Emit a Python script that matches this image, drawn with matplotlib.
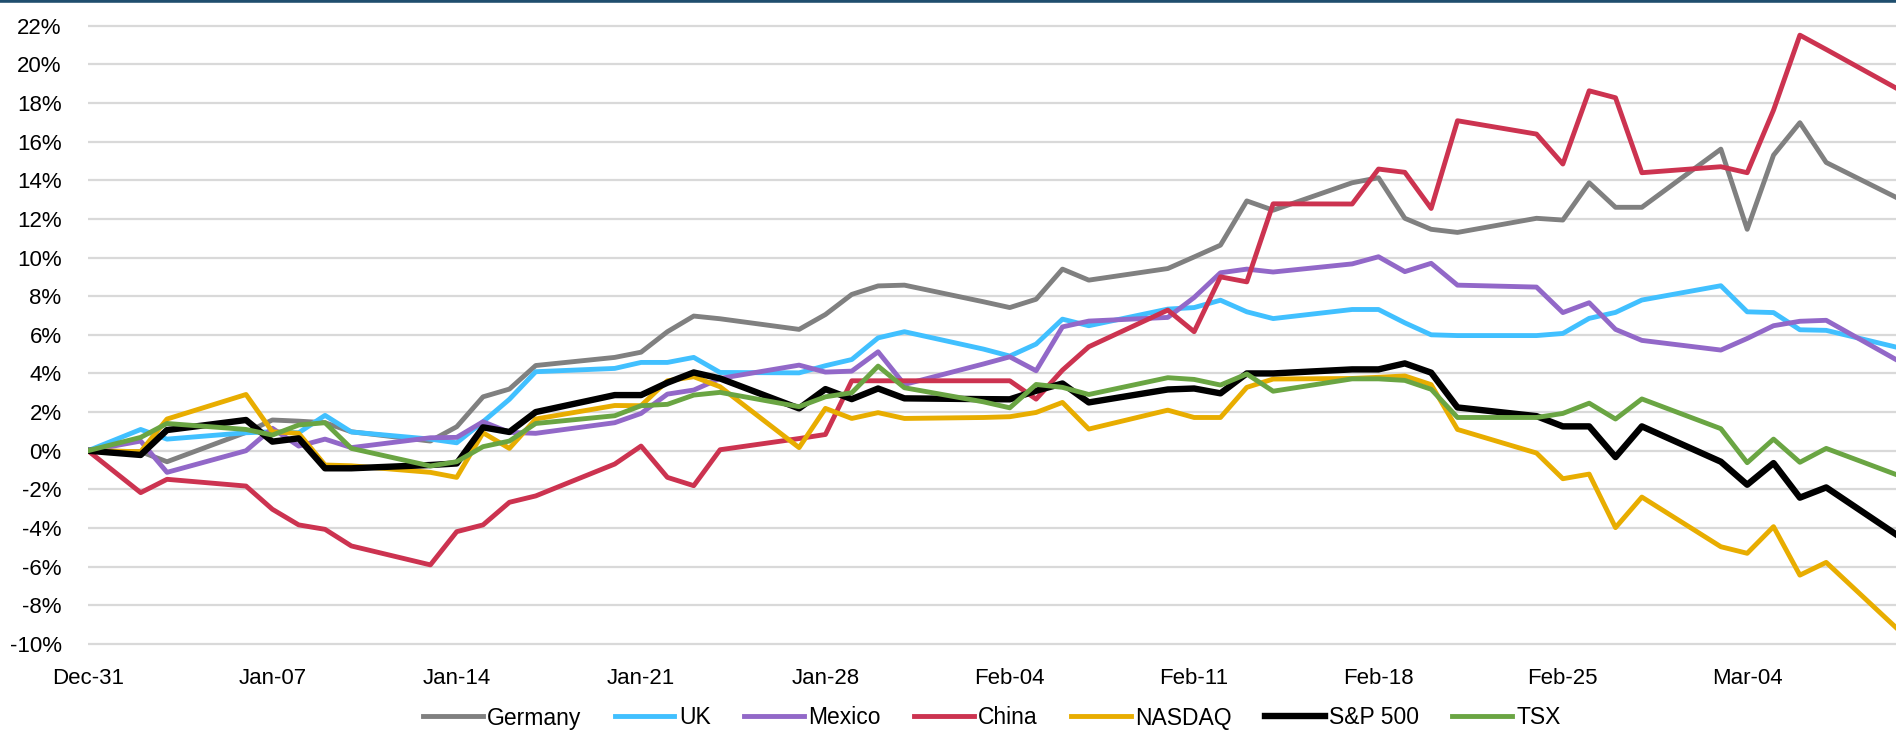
import numpy as np
import pandas as pd
import matplotlib
matplotlib.use("Agg")
import matplotlib.pyplot as plt
import matplotlib.dates as mdates

# trading days (weekdays, Jan 1 excluded)
dates = pd.to_datetime([
    "2024-12-31", "2025-01-02", "2025-01-03",
    "2025-01-06", "2025-01-07", "2025-01-08", "2025-01-09", "2025-01-10",
    "2025-01-13", "2025-01-14", "2025-01-15", "2025-01-16", "2025-01-17",
    "2025-01-20", "2025-01-21", "2025-01-22", "2025-01-23", "2025-01-24",
    "2025-01-27", "2025-01-28", "2025-01-29", "2025-01-30", "2025-01-31",
    "2025-02-03", "2025-02-04", "2025-02-05", "2025-02-06", "2025-02-07",
    "2025-02-10", "2025-02-11", "2025-02-12", "2025-02-13", "2025-02-14",
    "2025-02-17", "2025-02-18", "2025-02-19", "2025-02-20", "2025-02-21",
    "2025-02-24", "2025-02-25", "2025-02-26", "2025-02-27", "2025-02-28",
    "2025-03-03", "2025-03-04", "2025-03-05", "2025-03-06", "2025-03-07",
    "2025-03-10",
])

# cumulative return since Dec-31, in %
germany = [0, -0.05, -0.57, 0.95, 1.59, 1.53, 1.45, 0.98, 0.5, 1.24, 2.79, 3.19, 4.41,
           4.83, 5.10, 6.16, 6.97, 6.83, 6.28, 7.05, 8.09, 8.53, 8.57, 7.71, 7.41, 7.84,
           9.40, 8.83, 9.43, 10.03, 10.64, 12.93, 12.45, 13.87, 14.13, 12.03, 11.46, 11.30,
           12.03, 11.94, 13.87, 12.60, 12.60, 15.61, 11.46, 15.30, 16.98, 14.92, 12.88]
uk = [0, 1.10, 0.6, 0.93, 0.98, 0.93, 1.83, 0.97, 0.6, 0.41, 1.5, 2.66, 4.09,
      4.26, 4.57, 4.57, 4.83, 4.05, 4.03, 4.40, 4.72, 5.84, 6.16, 5.26, 4.90, 5.52,
      6.81, 6.47, 7.33, 7.41, 7.79, 7.19, 6.84, 7.31, 7.31, 6.62, 6.0, 5.96,
      5.96, 6.07, 6.85, 7.16, 7.80, 8.54, 7.19, 7.15, 6.26, 6.23, 5.25]
mexico = [0, 0.5, -1.12, 0, 1.16, 0.24, 0.6, 0.16, 0.67, 0.69, 1.5, 0.95, 0.9,
          1.45, 1.93, 2.93, 3.14, 3.74, 4.43, 4.07, 4.12, 5.12, 3.43, 4.49, 4.86, 4.14,
          6.41, 6.71, 6.90, 7.93, 9.21, 9.40, 9.25, 9.67, 10.04, 9.27, 9.70, 8.57,
          8.47, 7.15, 7.66, 6.28, 5.71, 5.21, 5.81, 6.47, 6.70, 6.75, 4.45]
china = [0, -2.17, -1.48, -1.83, -3.03, -3.84, -4.07, -4.93, -5.91, -4.19, -3.84, -2.67, -2.34,
         -0.69, 0.24, -1.38, -1.81, 0.05, 0.63, 0.84, 3.62, 3.62, 3.62, 3.62, 3.62, 2.67,
         4.17, 5.38, 7.28, 6.16, 9.0, 8.74, 12.78, 12.77, 14.58, 14.41, 12.54, 17.08,
         16.39, 14.84, 18.63, 18.27, 14.39, 14.70, 14.39, 17.63, 21.51, 20.77, 18.51]
nasdaq = [0, -0.05, 1.64, 2.91, 0.98, 0.9, -0.74, -0.78, -1.12, -1.38, 0.93, 0.12, 1.64,
          2.34, 2.33, 3.62, 3.83, 3.31, 0.16, 2.19, 1.67, 1.97, 1.67, 1.72, 1.76, 1.98,
          2.5, 1.12, 2.10, 1.72, 1.72, 3.28, 3.71, 3.74, 3.80, 3.87, 3.42, 1.10,
          -0.12, -1.45, -1.21, -3.98, -2.40, -4.97, -5.31, -3.93, -6.44, -5.78, -9.6]
sp500 = [0, -0.22, 1.07, 1.59, 0.47, 0.64, -0.91, -0.91, -0.74, -0.66, 1.21, 0.97, 2.0,
         2.88, 2.88, 3.52, 4.05, 3.74, 2.19, 3.19, 2.67, 3.22, 2.71, 2.67, 2.66, 3.10,
         3.48, 2.5, 3.17, 3.22, 2.97, 4.0, 4.0, 4.21, 4.21, 4.52, 4.04, 2.24,
         1.79, 1.26, 1.26, -0.33, 1.26, -0.57, -1.76, -0.64, -2.43, -1.90, -4.65]
tsx = [0, 0.69, 1.41, 1.10, 0.81, 1.33, 1.45, 0.12, -0.79, -0.57, 0.21, 0.5, 1.41,
       1.81, 2.33, 2.4, 2.88, 3.02, 2.28, 2.79, 3.0, 4.38, 3.26, 2.53, 2.22, 3.43,
       3.28, 2.91, 3.78, 3.69, 3.40, 3.97, 3.08, 3.72, 3.72, 3.64, 3.18, 1.72,
       1.72, 1.93, 2.46, 1.64, 2.68, 1.14, -0.62, 0.60, -0.60, 0.12, -1.41]

names = ["Germany", "UK", "Mexico", "China", "NASDAQ", "S&P 500", "TSX"]
series = [germany, uk, mexico, china, nasdaq, sp500, tsx]
colors = ["#808080", "#41C0FF", "#9268C8", "#CC3350", "#E8AD00", "#000000", "#6AA543"]
widths = [3.5, 3.5, 3.5, 3.5, 3.5, 4.6, 3.5]

plt.rcParams["font.family"] = ["Liberation Sans", "DejaVu Sans"]

fig = plt.figure(figsize=(18.96, 7.31), dpi=100)
ax = fig.add_axes([88 / 1896, 81.3 / 731, 1 - 88 / 1896, (711.1 - 81.3) / 731])

for name, vals, c, w in zip(names, series, colors, widths):
    ax.plot(dates, vals, color=c, lw=w, label=name)

start = pd.Timestamp("2024-12-31")
ax.set_xlim(start, start + pd.Timedelta(days=68.65))
ax.set_ylim(-10.3, 22.3)

ax.set_yticks(np.arange(-10, 23, 2))
ax.yaxis.set_major_formatter(plt.FuncFormatter(lambda v, p: f"{v:.0f}%"))
ax.set_xticks(pd.date_range(start, periods=10, freq="7D"))
ax.xaxis.set_major_formatter(mdates.DateFormatter("%b-%d"))

ax.grid(axis="y", color="#D9D9D9", lw=1.6)
ax.set_axisbelow(True)
for s in ax.spines.values():
    s.set_visible(False)
ax.tick_params(axis="both", length=0, labelsize=16, colors="#000000")
ax.tick_params(axis="y", pad=19)
ax.tick_params(axis="x", pad=13)

ax_mid = (88 + 1896) / 2 / 1896
fig.legend(loc="center", bbox_to_anchor=(ax_mid, 13 / 731), ncol=7, frameon=False,
           fontsize=16.5, handlelength=2.6, handletextpad=0.2, columnspacing=1.45)

# thin dark rule along the top edge
fig.add_artist(plt.Line2D([0, 1], [1, 1], transform=fig.transFigure,
                          color="#1F4E6E", lw=3.3))

fig.savefig("out.png", dpi=100)
